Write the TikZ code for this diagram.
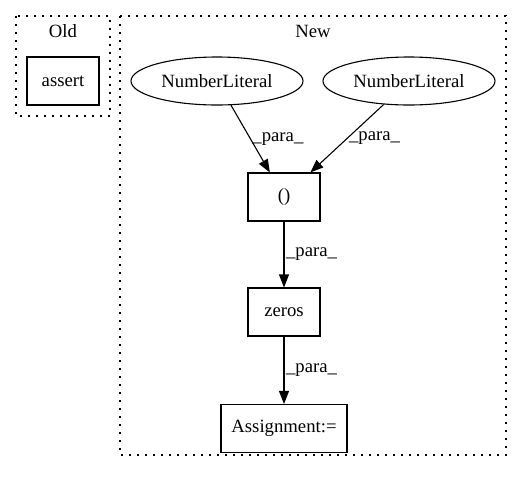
\documentclass[tikz,border=0pt]{standalone}
\usepackage{fontspec}
\setmainfont{Liberation Serif}
\usetikzlibrary{shapes.geometric,arrows.meta}
\begin{document}
\begin{tikzpicture}[x=1pt,y=-1pt,
  every node/.style={font=\fontsize{18.7}{22}\selectfont},
  cluster/.style={draw,line width=1.2pt,dash pattern=on 1.6pt off 6.4pt},
  boxnode/.style={draw,line width=1.1pt,rectangle,minimum height=48pt,inner sep=0pt},
  ellnode/.style={draw,line width=1.1pt,ellipse,minimum width=172pt,minimum height=48pt,inner sep=0pt},
  edge/.style={line width=1.1pt,-{Triangle[length=13pt,width=10pt]}},
  elabel/.style={inner sep=1.5pt}]
\useasboundingbox (0,0) rectangle (521,480);
\draw[cluster] (16,16) rectangle (110,116);
\draw[cluster] (120,16) rectangle (506,455);
\node (oldlbl) at (63,31) {Old};
\node (newlbl) at (313,31) {New};
\node[boxnode,minimum width=72pt] (assert) at (63,81) {assert};
\node[ellnode] (nl1) at (217,81) {NumberLiteral};
\node[ellnode] (nl2) at (409,81) {NumberLiteral};
\node[boxnode,minimum width=72pt] (tup) at (284,197) {()};
\node[boxnode,minimum width=72pt] (zeros) at (284,312) {zeros};
\node[boxnode,minimum width=126pt] (assign) at (284,428.5) {Assignment:=};
\draw[edge] (nl1) -- node[midway,right,elabel] {\_para\_} (tup);
\draw[edge] (nl2) -- node[midway,right,elabel] {\_para\_} (tup);
\draw[edge] (tup) -- node[midway,right,elabel] {\_para\_} (zeros);
\draw[edge] (zeros) -- node[midway,right,elabel] {\_para\_} (assign);
\end{tikzpicture}
\end{document}
